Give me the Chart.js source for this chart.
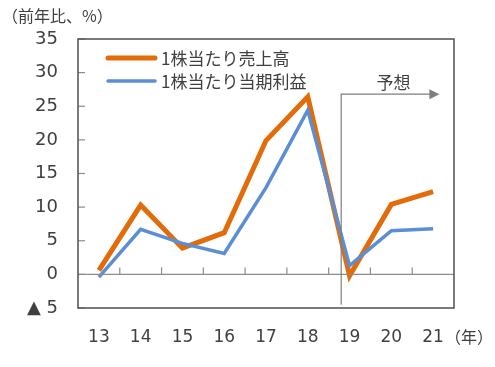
<!DOCTYPE html>
<html>
<head>
<meta charset="utf-8">
<script src="https://cdn.jsdelivr.net/npm/chart.js@4"></script>
<style>
  html, body { margin: 0; padding: 0; background: #fff; }
  #wrap { width: 495px; height: 367px; }
</style>
</head>
<body>
<div id="wrap"><canvas id="c" width="495" height="367"></canvas></div>
<script>
// 年度ラベル
const years = ["13", "14", "15", "16", "17", "18", "19", "20", "21"];
// 1株当たり売上高 (前年比、%)
const salesPerShare = [0.6, 10.3, 3.9, 6.2, 19.9, 26.4, -0.2, 10.4, 12.3];
// 1株当たり当期利益 (前年比、%)
const profitPerShare = [-0.4, 6.7, 4.6, 3.1, 12.9, 24.4, 1.3, 6.5, 6.8];
const yTicks = [-5, 0, 5, 10, 15, 20, 25, 30, 35];

const FONT = "'Noto Sans CJK JP', 'Noto Sans', sans-serif";
const NUM_FONT = "'DejaVu Sans', sans-serif";
const TXT = "#404040";

// 枠線・目盛り・予想矢印・凡例を描くプラグイン
const decoPlugin = {
    id: "deco",
    afterDatasetsDraw(chart) {
        const ctx = chart.ctx;
        const a = chart.chartArea;
        const x = chart.scales.x;
        const y = chart.scales.y;
        ctx.save();

        // ゼロ線
        const y0 = y.getPixelForValue(0);
        ctx.strokeStyle = "#8c8c8c";
        ctx.lineWidth = 1.2;
        ctx.beginPath();
        ctx.moveTo(a.left, y0);
        ctx.lineTo(a.right, y0);
        ctx.stroke();

        // x軸の目盛り(上向き)
        for (let i = 0; i < years.length - 1; i++) {
            const px = x.getPixelForValue(i + 0.5);
            ctx.beginPath();
            ctx.moveTo(px, y0);
            ctx.lineTo(px, y0 - 7);
            ctx.stroke();
        }

        // y軸の目盛り(右向き)
        yTicks.forEach(v => {
            const py = y.getPixelForValue(v);
            ctx.beginPath();
            ctx.moveTo(a.left, py);
            ctx.lineTo(a.left + 7, py);
            ctx.stroke();
        });

        // 予想の区切り線と矢印
        const fx = x.getPixelForValue(5.8);
        const fTop = y.getPixelForValue(26.8);
        const fBot = y.getPixelForValue(-4.5);
        const ax = x.getPixelForValue(8.15);
        ctx.strokeStyle = "#7f7f7f";
        ctx.lineWidth = 1.2;
        ctx.beginPath();
        ctx.moveTo(fx, fBot);
        ctx.lineTo(fx, fTop);
        ctx.lineTo(ax - 8, fTop);
        ctx.stroke();
        ctx.fillStyle = "#7f7f7f";
        ctx.beginPath();
        ctx.moveTo(ax, fTop);
        ctx.lineTo(ax - 10, fTop - 5);
        ctx.lineTo(ax - 10, fTop + 5);
        ctx.closePath();
        ctx.fill();

        ctx.fillStyle = TXT;
        ctx.font = "17px " + FONT;
        ctx.textAlign = "center";
        ctx.textBaseline = "middle";
        ctx.fillText("予想", x.getPixelForValue(7.05), fTop - 12);

        // 外枠
        ctx.strokeStyle = "#595959";
        ctx.lineWidth = 1.6;
        ctx.strokeRect(a.left, a.top, a.right - a.left, a.bottom - a.top);

        // 凡例
        ctx.textAlign = "left";
        ctx.font = "17px " + FONT;
        chart.data.datasets.forEach((ds, i) => {
            const ly = a.top + 19 + i * 23;
            ctx.strokeStyle = ds.borderColor;
            ctx.lineWidth = ds.borderWidth;
            ctx.lineCap = "round";
            ctx.beginPath();
            ctx.moveTo(a.left + 30, ly);
            ctx.lineTo(a.left + 77, ly);
            ctx.stroke();
            ctx.fillStyle = TXT;
            ctx.fillText(ds.label, a.left + 83, ly + 1);
        });

        // 軸タイトル
        ctx.font = "16px " + FONT;
        ctx.fillText("（前年比、%）", 2, 16);
        ctx.fillText("（年）", x.right - 9, chart.height - 30);

        ctx.restore();
    }
};

new Chart(document.getElementById("c"), {
    type: "line",
    data: {
        labels: years,
        datasets: [{
            label: "1株当たり売上高",
            data: salesPerShare,
            borderColor: "#E36C0A",
            borderWidth: 5,
            pointRadius: 0,
            tension: 0,
            order: 2
        }, {
            label: "1株当たり当期利益",
            data: profitPerShare,
            borderColor: "#5B8ED2",
            borderWidth: 3.5,
            pointRadius: 0,
            tension: 0,
            order: 1
        }]
    },
    options: {
        responsive: false,
        animation: false,
        layout: { padding: { top: 39, right: 41, left: 0, bottom: 0 } },
        plugins: {
            legend: { display: false },
            tooltip: { enabled: false }
        },
        scales: {
            x: {
                offset: true,
                grid: { display: false, drawTicks: false },
                border: { display: false },
                ticks: {
                    color: TXT,
                    font: { family: NUM_FONT, size: 17 },
                    padding: 19
                },
                afterFit(s) { s.height = 59; }
            },
            y: {
                min: -5,
                max: 35,
                afterBuildTicks(s) { s.ticks = yTicks.map(v => ({ value: v })); },
                grid: { display: false, drawTicks: false },
                border: { display: false },
                ticks: {
                    color: TXT,
                    font: { family: NUM_FONT, size: 18 },
                    padding: 20,
                    callback: v => v < 0 ? "▲ " + Math.abs(v) : String(v)
                },
                afterFit(s) { s.width = 78; }
            }
        }
    },
    plugins: [decoPlugin]
});
</script>
</body>
</html>
